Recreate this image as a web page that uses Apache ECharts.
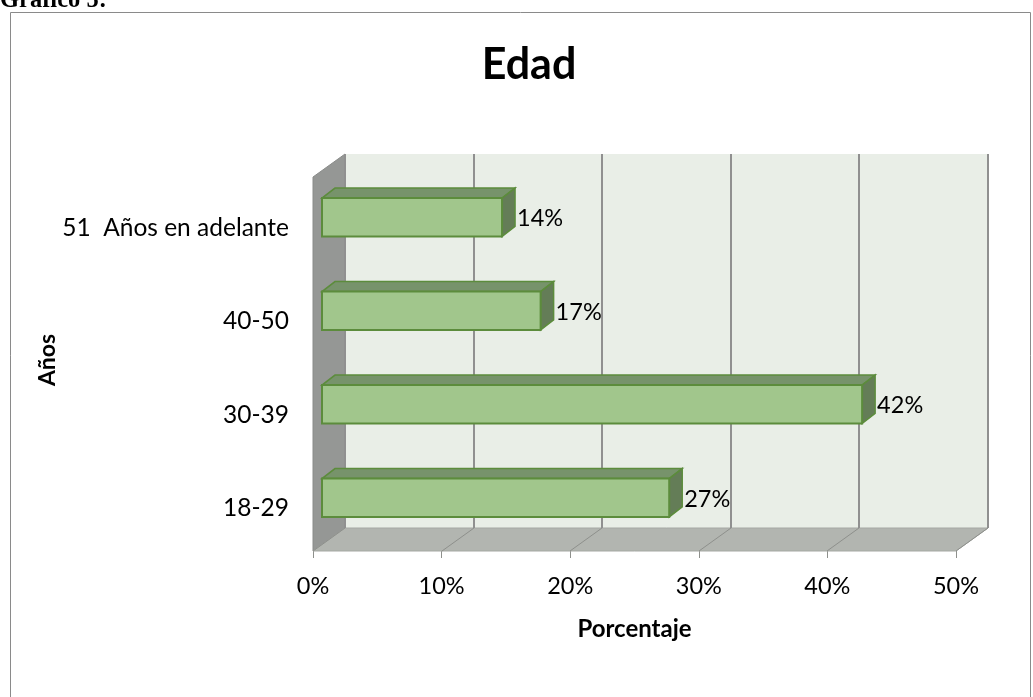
<!DOCTYPE html>
<html>
<head>
<meta charset="utf-8">
<title>Edad</title>
<script src="https://cdn.jsdelivr.net/npm/echarts@6/dist/echarts.min.js"></script>
<style>
  html, body { margin: 0; padding: 0; background: #ffffff; }
  #chart { width: 1033px; height: 697px; }
</style>
</head>
<body>
<div id="chart"></div>
<script>
// Age groups (bottom to top) and their share of respondents, in percent
const categories = ['18-29', '30-39', '40-50', '51  Años en adelante'];
const shares = [27, 42, 17, 14];
// Percentage axis ticks
const percentTicks = [0, 10, 20, 30, 40, 50];

const FONT = 'Lato, "Open Sans", sans-serif';

// Oblique depth of the 3D box (walls) and of each bar
const WALL_DX = 32, WALL_DY = -23;
const BAR_SHIFT_X = 9, BAR_SHIFT_Y = -6.5;
const BAR_DX = 13, BAR_DY = -10;

const chart = echarts.init(document.getElementById('chart'), null, { renderer: 'canvas' });

// Back wall, left side wall and floor of the box
function renderChamber(params, api) {
  const cs = params.coordSys;
  const x = cs.x, y = cs.y, w = cs.width, h = cs.height;
  return {
    type: 'group',
    children: [
      { type: 'rect', shape: { x: x + WALL_DX, y: y + WALL_DY, width: w, height: h },
        style: { fill: '#e9eee7' } },
      { type: 'polygon', shape: { points: [[x, y], [x + WALL_DX, y + WALL_DY], [x + WALL_DX, y + h + WALL_DY], [x, y + h]] },
        style: { fill: '#959795', stroke: '#8a8c8a', lineWidth: 1 } },
      { type: 'polygon', shape: { points: [[x, y + h], [x + WALL_DX, y + h + WALL_DY], [x + w + WALL_DX, y + h + WALL_DY], [x + w, y + h]] },
        style: { fill: '#b2b5b0', stroke: '#a5a8a3', lineWidth: 1 } }
    ]
  };
}

// Gridline on the back wall plus its diagonal continuation across the floor
function renderGridline(params, api) {
  const cs = params.coordSys;
  const px = Math.round(api.coord([api.value(0), 0])[0]);
  const top = cs.y + WALL_DY, bottom = cs.y + cs.height + WALL_DY;
  return {
    type: 'group',
    children: [
      { type: 'line', shape: { x1: px + WALL_DX, y1: top, x2: px + WALL_DX, y2: bottom },
        style: { stroke: '#909090', lineWidth: 2 } },
      { type: 'line', shape: { x1: px, y1: cs.y + cs.height, x2: px + WALL_DX, y2: bottom },
        style: { stroke: '#8e908c', lineWidth: 1 } }
    ]
  };
}

// 3D bar: front face, top face, right side face and value label
function renderBar(params, api) {
  const v = api.value(0), cat = api.value(1);
  const p0 = api.coord([0, cat]);
  const p1 = api.coord([v, cat]);
  const band = api.size([0, 1])[1];
  const barH = band * 0.41;
  const x0 = p0[0] + BAR_SHIFT_X, x1 = p1[0] + BAR_SHIFT_X;
  const cy = p0[1] + BAR_SHIFT_Y;
  const top = cy - barH / 2, bot = cy + barH / 2;
  const edge = '#5c8c3c';
  return {
    type: 'group',
    children: [
      { type: 'polygon', shape: { points: [[x0, top], [x1, top], [x1 + BAR_DX, top + BAR_DY], [x0 + BAR_DX, top + BAR_DY]] },
        style: { fill: '#77936b', stroke: edge, lineWidth: 1.5 } },
      { type: 'polygon', shape: { points: [[x1, top], [x1 + BAR_DX, top + BAR_DY], [x1 + BAR_DX, bot + BAR_DY], [x1, bot]] },
        style: { fill: '#647d57', stroke: edge, lineWidth: 1.5 } },
      { type: 'rect', shape: { x: x0, y: top, width: x1 - x0, height: barH },
        style: { fill: '#a1c68c', stroke: edge, lineWidth: 2 } },
      { type: 'text', x: x1 + BAR_DX + 2, y: cy + 1.5,
        style: { text: v + '%', fill: '#000', font: '23.5px ' + FONT, align: 'left', verticalAlign: 'middle' } }
    ]
  };
}

const option = {
  animation: false,
  backgroundColor: '#ffffff',
  title: {
    text: 'Edad',
    left: 524,
    top: 39,
    textAlign: 'center',
    textStyle: { fontFamily: FONT, fontWeight: 'bold', fontSize: 43, color: '#000' }
  },
  graphic: [
    { type: 'rect', shape: { x: 10.5, y: 12.5, width: 1020, height: 700 },
      style: { fill: 'none', stroke: '#8a8a8a', lineWidth: 1 }, silent: true },
    { type: 'text', x: 0, y: 13.5,
      style: { text: 'Gráfico 5:', font: 'bold 24.5px "Liberation Serif", "DejaVu Serif", serif', fill: '#000', verticalAlign: 'bottom' } }
  ],
  grid: { left: 313, right: 77, top: 177, bottom: 146, containLabel: false },
  xAxis: {
    type: 'value',
    min: 0, max: 50, interval: 10,
    axisLine: { show: false },
    axisTick: { show: true, length: 7, lineStyle: { color: '#8e908c', width: 1 } },
    splitLine: { show: false },
    axisLabel: { formatter: '{value}%', color: '#000', fontFamily: FONT, fontSize: 23.5, margin: 23 },
    name: 'Porcentaje',
    nameLocation: 'middle',
    nameGap: 66,
    nameMoveOverlap: false,
    nameTextStyle: { fontFamily: FONT, fontWeight: 'bold', fontSize: 24, color: '#000' }
  },
  yAxis: {
    type: 'category',
    data: categories,
    axisLine: { show: false },
    axisTick: { show: false },
    splitLine: { show: false },
    axisLabel: {
      color: '#000', fontFamily: FONT, fontSize: 24.5, margin: 24,
      formatter: v => '{c|' + v + '}',
      rich: { c: { fontFamily: FONT, fontSize: 24.5, color: '#000', padding: [8, 0, 0, 0] } }
    },
    name: 'Años',
    nameLocation: 'middle',
    nameGap: 254,
    nameRotate: 90,
    nameMoveOverlap: false,
    nameTextStyle: { fontFamily: FONT, fontWeight: 'bold', fontSize: 23, color: '#000', padding: [0, 0, 0, 8] }
  },
  series: [
    { type: 'custom', name: 'chamber', coordinateSystem: 'cartesian2d', clip: false, z: 1, silent: true,
      renderItem: renderChamber, data: [[percentTicks[0], 0]] },
    { type: 'custom', name: 'grid', coordinateSystem: 'cartesian2d', clip: false, z: 2, silent: true,
      renderItem: renderGridline, data: percentTicks.map(t => [t, 0]) },
    { type: 'custom', name: 'Edad', coordinateSystem: 'cartesian2d', clip: false, z: 3,
      renderItem: renderBar, encode: { x: 0, y: 1 },
      data: shares.map((v, i) => [v, i]) }
  ]
};

chart.setOption(option);
</script>
</body>
</html>
